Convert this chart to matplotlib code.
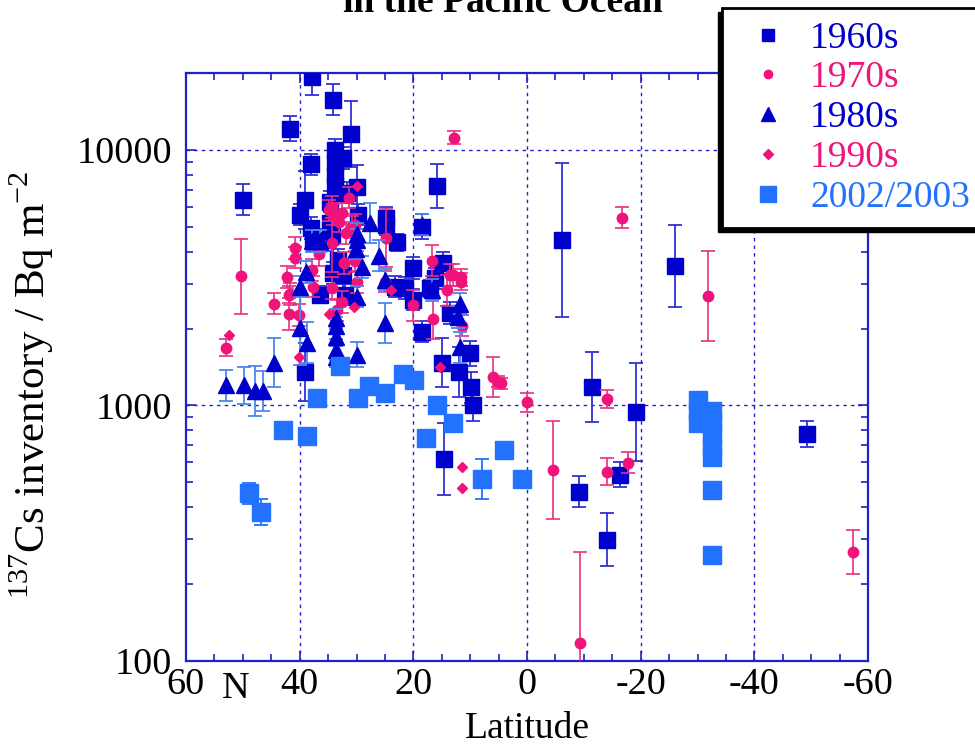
import numpy as np
import matplotlib
matplotlib.use('Agg')
import matplotlib.pyplot as plt
from matplotlib.lines import Line2D
from matplotlib.patches import Rectangle
from matplotlib.ticker import FixedLocator, LogLocator, NullFormatter

plt.rcParams['font.family'] = ['Liberation Serif', 'DejaVu Sans']
plt.rcParams['mathtext.fontset'] = 'custom'
plt.rcParams['mathtext.rm'] = 'Liberation Serif'
plt.rcParams['axes.unicode_minus'] = False

# 137Cs inventory (Bq m-2) vs latitude; err = multiplicative error factor
lat_1960s = [50.0, 41.7, 37.8, 34.1, 31.0, 33.8, 32.4, 38.0, 33.8, 33.8, 33.8, 29.9, 39.1, 34.7,
             31.7, 39.9, 29.7, 38.0, 24.8, 24.8, 34.7, 34.3, 37.7, 35.2, 33.3, 32.4, 36.4, 34.1,
             32.0, 23.2, 39.1, 22.9, 15.8, 18.5, 20.1, 14.8, 16.2, 17.1, 21.5, 20.1, 13.5, 18.5,
             10.0, 15.0, 12.0, 9.9, 9.5, 14.6, -6.2, -11.4, -19.2, -16.4, -9.2, -14.1, -26.0, -49.3]
cs_1960s = [6370, 12100, 19300, 15700, 11550, 10000, 9300, 8800, 8900, 8000, 7300, 7170, 6370, 6260,
            6790, 5570, 5570, 4950, 5420, 5090, 5180, 4650, 4440, 4440, 3710, 3240, 2710, 3300,
            2710, 2910, 1350, 4360, 7230, 5000, 3450, 3610, 3150, 2880, 2880, 2590, 2300, 1940,
            1600, 1470, 1350, 1180, 1000, 618, 4440, 1180, 943, 535, 459, 298, 3520, 773]
err_1960s = [1.15, 1.12, 1.18, 1.15, 1.35, 1.1, 1.1, 1.1, 1.08, 1.08, 1.08, 1.22, 1.3, 1.1,
             1.1, 1.1, 1.1, 1.1, 1.1, 1.1, 1.1, 1.1, 1.1, 1.1, 1.1, 1.15, 1.08, 1.1,
             1.1, 1.1, 1.3, 1.08, 1.22, 1.12, 1.1, 1.1, 1.1, 1.08, 1.1, 1.1, 1.1, 1.1,
             1.12, 1.25, 1.25, 1.15, 1.15, 1.38, 2.0, 1.37, 1.55, 1.12, 1.15, 1.27, 1.45, 1.12]

lat_1970s = [12.8, -16.7, -31.9, 50.3, -57.4, -9.3, -4.6, -14.1, -17.8, -14.1, 0.0, 6.0, 5.1, 4.6,
             53.0, 44.5, 41.9, 41.9, 40.1, 42.2, 41.7, 37.8, 37.7, 40.8, 40.8, 36.6, 34.3, 32.5,
             33.4, 32.2, 29.9, 30.3, 20.1, 25.0, 31.3, 34.3, 34.8, 34.1, 32.5, 33.1, 31.8, 30.8,
             30.3, 34.3, 24.8, 16.7, 16.5, 13.5, 13.1, 14.1, 11.6, 11.6, 11.4]
cs_1970s = [11140, 5420, 2680, 3200, 267, 118, 559, 550, 596, 1060, 1030, 1290, 1240, 1220,
            1680, 2500, 2710, 2280, 2260, 3180, 2730, 3390, 2910, 4130, 3780, 3920, 2880, 2540,
            2360, 3610, 3040, 3660, 2470, 3050, 6490, 5980, 5800, 5570, 5650, 5230, 4730, 5000,
            5090, 4310, 4530, 3680, 2180, 3240, 3240, 2830, 3180, 3050, 2050]
err_1970s = [1.06, 1.1, 1.5, 1.4, 1.22, 2.27, 1.55, 1.13, 1.1, 1.08, 1.09, 1.2, 1.05, 1.05,
             1.08, 1.1, 1.08, 1.15, 1.1, 1.1, 1.1, 1.1, 1.1, 1.1, 1.1, 1.12, 1.1, 1.1,
             1.1, 1.1, 1.1, 1.1, 1.15, 1.1, 1.1, 1.1, 1.1, 1.1, 1.1, 1.1, 1.1, 1.1,
             1.1, 1.3, 1.3, 1.15, 1.2, 1.1, 1.1, 1.15, 1.08, 1.08, 1.1]

lat_1980s = [53.0, 49.8, 47.9, 46.5, 44.5, 38.9, 39.9, 39.9, 38.7, 33.6, 33.6, 33.6, 33.6, 33.6,
             29.9, 29.9, 29.0, 29.9, 30.0, 30.1, 27.6, 26.0, 25.0, 25.0, 18.5, 16.7, 11.8, 12.1,
             11.8, 37.9, 36.4]
cs_1980s = [1200, 1200, 1140, 1140, 1470, 3330, 2910, 2010, 1760, 2200, 2050, 1850, 1650, 1550,
            1580, 2660, 3480, 4440, 4700, 4100, 5180, 3850, 3100, 2100, 5090, 2830, 2500, 2220,
            1690, 4400, 4400]
err_1980s = [1.15, 1.18, 1.25, 1.2, 1.25, 1.1, 1.1, 1.4, 1.2, 1.08, 1.08, 1.08, 1.1, 1.1,
             1.12, 1.1, 1.1, 1.1, 1.1, 1.1, 1.2, 1.15, 1.1, 1.2, 1.1, 1.1, 1.1, 1.1,
             1.15, 1.1, 1.1]

lat_1990s = [52.4, 40.1, 34.8, 30.4, 23.9, 29.9, 15.3, 11.4, 11.4]
cs_1990s = [1890, 1550, 2280, 2430, 2830, 7230, 1410, 575, 475]

lat_2002 = [43.0, 38.7, 48.9, 46.8, 36.9, 32.9, 29.7, 27.8, 25.0, 21.8, 19.9, 15.8, 17.8, 13.0,
            4.0, 0.9, 7.9, -30.1, -30.1, -30.1, -32.6, -32.6, -32.6, -32.6, -32.6, -32.6, -32.6]
cs_2002 = [802, 760, 454, 383, 1070, 1430, 1070, 1190, 1120, 1330, 1260, 1000, 746, 855,
           670, 515, 515, 1050, 950, 850, 950, 860, 770, 690, 630, 465, 260]
err_2002 = [1.05, 1.0, 1.1, 1.12, 1.0, 1.0, 1.0, 1.0, 1.0, 1.0, 1.0, 1.0, 1.0, 1.0,
            1.0, 1.0, 1.2, 1.0, 1.0, 1.0, 1.0, 1.0, 1.0, 1.0, 1.0, 1.08, 1.06]

dark_blue = '#0000cc'
pink = '#f0147a'
light_blue = '#2272ff'
frame_blue = '#2020cc'


def bars(v, f):
    v = np.array(v, float)
    f = np.array(f, float)
    return [v - v / f, v * f - v]


fig = plt.figure(figsize=(9.75, 7.47), dpi=100)
ax = fig.add_axes([186 / 975, 86 / 747, 682 / 975, 588 / 747])

ax.errorbar(lat_1960s, cs_1960s, yerr=bars(cs_1960s, err_1960s), fmt='s', ms=11,
            color=dark_blue, ecolor='#3030d8', elinewidth=1.3, capsize=5, capthick=1.3, zorder=3)
ax.errorbar(lat_1970s, cs_1970s, yerr=bars(cs_1970s, err_1970s), fmt='o', ms=7.5,
            color=pink, ecolor='#e8307f', elinewidth=1.2, capsize=5, capthick=1.2, zorder=4)
ax.errorbar(lat_1980s, cs_1980s, yerr=bars(cs_1980s, err_1980s), fmt='^', ms=11,
            color=dark_blue, ecolor='#4d85ee', elinewidth=1.3, capsize=5, capthick=1.3, zorder=5)
ax.plot(lat_1990s, cs_1990s, 'D', ms=5.5, color=pink, zorder=6)
ax.errorbar(lat_2002, cs_2002, yerr=bars(cs_2002, err_2002), fmt='s', ms=12.5,
            color=light_blue, ecolor=light_blue, elinewidth=1.3, capsize=5, capthick=1.3, zorder=7)

ax.set_yscale('log')
ax.set_xlim(60, -60)
ax.set_ylim(100, 20000)

ax.xaxis.set_major_locator(FixedLocator([60, 40, 20, 0, -20, -40, -60]))
ax.xaxis.set_minor_locator(FixedLocator(np.arange(-60, 61, 5)))
ax.set_xticklabels(['60', '40', '20', '0', '-20', '-40', '-60'])
ax.yaxis.set_major_locator(FixedLocator([100, 1000, 10000]))
ax.set_yticklabels(['100', '1000', '10000'])
ax.yaxis.set_minor_locator(LogLocator(base=10, subs=np.arange(2, 10)))
ax.yaxis.set_minor_formatter(NullFormatter())

ax.tick_params(which='both', direction='in', top=True, right=True, color=frame_blue,
               labelsize=27.5, width=1.2)
ax.tick_params(which='major', length=7)
ax.tick_params(which='minor', length=5)
ax.tick_params(axis='x', pad=5)
ax.tick_params(axis='y', pad=10)

for s in ax.spines.values():
    s.set_color(frame_blue)
    s.set_linewidth(1.6)

for x in [40, 20, 0, -20, -40]:
    ax.axvline(x, color=frame_blue, lw=1, ls=(0, (2.5, 3)), zorder=1)
for y in [1000, 10000]:
    ax.axhline(y, color=frame_blue, lw=1, ls=(0, (2.5, 3)), zorder=1)

ax.set_xlabel('Latitude', fontsize=27)
ax.xaxis.set_label_coords(0.5, -0.086)
ax.set_ylabel('$^{\\mathregular{137}}$Cs inventory / Bq m$^{\\mathregular{-2}}$', fontsize=31)
ax.yaxis.set_label_coords(-0.19, 0.47)

fig.text(236 / 975, 1 - 671 / 747, 'N', fontsize=27.5, ha='center', va='top')
fig.text(503 / 975, 1 - 12 / 747, 'in the Pacific Ocean', fontsize=27, weight='bold',
         ha='center', va='baseline')

handles = [
    Line2D([], [], ls='none', marker='s', ms=9, color=dark_blue),
    Line2D([], [], ls='none', marker='o', ms=6, color=pink),
    Line2D([], [], ls='none', marker='^', ms=10, color=dark_blue),
    Line2D([], [], ls='none', marker='D', ms=5, color=pink),
    Line2D([], [], ls='none', marker='s', ms=12, color=light_blue),
]
labels = ['1960s', '1970s', '1980s', '1990s', '2002/2003']
leg = fig.legend(handles, labels, loc='upper left', bbox_to_anchor=(722 / 975, 1 - 8 / 747),
                 fontsize=27, frameon=True, fancybox=False, framealpha=1, borderpad=0.35,
                 labelspacing=0.14, handlelength=1.76, handletextpad=0.24, borderaxespad=0)
leg.get_frame().set_edgecolor('black')
leg.get_frame().set_linewidth(2)
for t, c in zip(leg.get_texts(), [dark_blue, pink, dark_blue, pink, light_blue]):
    t.set_color(c)

fig.canvas.draw()
bb = leg.get_window_extent()
inv = fig.transFigure.inverted()
x0, y0 = inv.transform((bb.x0 - 4, bb.y0 - 4))
x1, y1 = inv.transform((bb.x1 - 4, bb.y1 - 4))
fig.add_artist(Rectangle((x0, y0), x1 - x0, y1 - y0, transform=fig.transFigure,
                         color='black', zorder=4))

fig.savefig('out.png', dpi=100)
